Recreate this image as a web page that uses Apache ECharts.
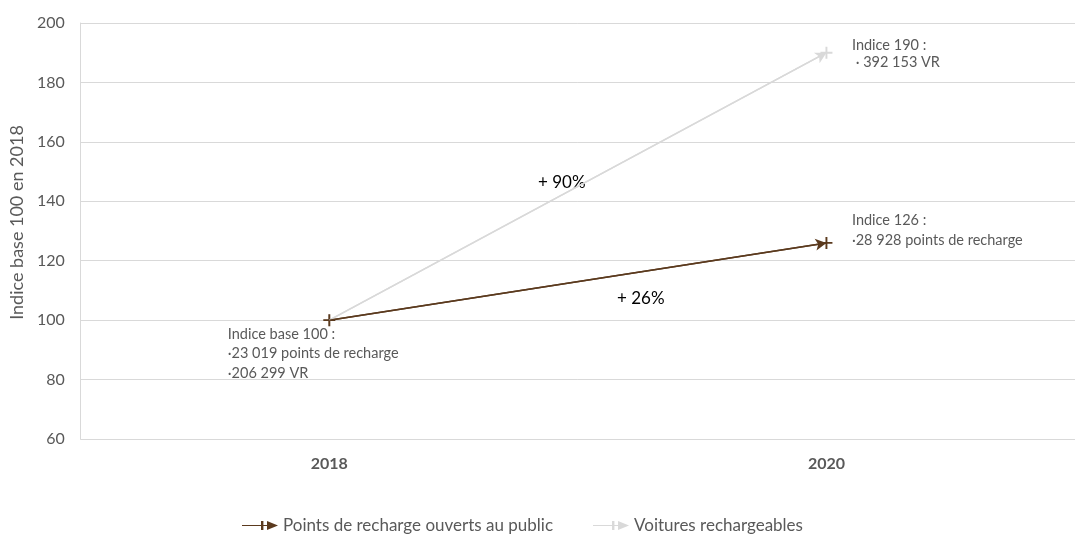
<!DOCTYPE html>
<html>
<head>
<meta charset="utf-8">
<style>
  html, body { margin: 0; padding: 0; background: #ffffff; }
  #chart { width: 1075px; height: 536px; }
</style>
<script src="https://cdn.jsdelivr.net/npm/echarts@6/dist/echarts.min.js"></script>
</head>
<body>
<div id="chart"></div>
<script>
// Years on the x axis
const years = ['2018', '2020'];
// Index values, base 100 in 2018
const pointsRecharge = [100, 126];
const voitures = [100, 190];
// Series names
const seriesNames = ['Points de recharge ouverts au public', 'Voitures rechargeables'];
// Annotation texts
const noteBase = 'Indice base 100 :\n·23 019 points de recharge\n·206 299 VR';
const notePoints = 'Indice 126 :\n·28 928 points de recharge';
const noteVoitures = 'Indice 190 :\n · 392 153 VR';
const growthVoitures = '+ 90%';
const growthPoints = '+ 26%';
// y-axis ticks
const yMin = 60, yMax = 200, yStep = 20;

const brown = '#5b3a1e';
const grey = '#d9d9d9';
const textColor = '#595959';
const font = 'Lato, "Liberation Sans", sans-serif';

const plus = 'path://M4.2,0H5.8V4.2H10V5.8H5.8V10H4.2V5.8H0V4.2H4.2Z';
const legendIcon = 'path://M0,4.4H26V5.6H0Z M25,0.5L36,5L25,9.5Z M19,0.5H21.4V9.5H19Z';

const chart = echarts.init(document.getElementById('chart'));

function arrowLine(values, color) {
  return {
    silent: true,
    symbol: ['none', 'arrow'],
    symbolSize: [9, 11],
    lineStyle: { color: color, width: 1.5, type: 'solid' },
    label: { show: false },
    data: [[{ coord: [0, values[0]] }, { coord: [1, values[1]] }]]
  };
}

function note(text, pos, lh) {
  return {
    show: true,
    formatter: text,
    position: pos,
    align: 'left',
    verticalAlign: 'top',
    lineHeight: lh,
    fontSize: 14.5,
    color: textColor,
    fontFamily: font
  };
}

chart.setOption({
  animation: false,
  textStyle: { fontFamily: font },
  grid: { left: 80, right: -7, top: 23, bottom: 97 },
  legend: {
    top: 512,
    left: 237,
    itemWidth: 36,
    itemHeight: 10,
    itemGap: 40,
    textStyle: { color: textColor, fontSize: 17, fontFamily: font },
    data: [
      { name: seriesNames[0], icon: legendIcon },
      { name: seriesNames[1], icon: legendIcon }
    ]
  },
  xAxis: {
    type: 'category',
    data: years,
    boundaryGap: true,
    axisLine: { show: true, lineStyle: { color: grey } },
    axisTick: { show: false },
    axisLabel: { color: textColor, fontWeight: 'bold', fontSize: 16, margin: 17, fontFamily: font }
  },
  yAxis: {
    type: 'value',
    min: yMin,
    max: yMax,
    interval: yStep,
    name: 'Indice base 100 en 2018',
    nameLocation: 'middle',
    nameGap: 54,
    nameTextStyle: { color: textColor, fontSize: 18, fontFamily: font, padding: [0, 0, 0, 17] },
    axisLine: { show: true, lineStyle: { color: grey } },
    axisTick: { show: false },
    axisLabel: { color: textColor, fontSize: 16, margin: 16, fontFamily: font },
    splitLine: { lineStyle: { color: grey, width: 1 } }
  },
  graphic: [
    { type: 'text', left: 538, top: 174, style: { text: growthVoitures, fill: '#000', font: '17px ' + font } },
    { type: 'text', left: 617, top: 290, style: { text: growthPoints, fill: '#000', font: '17px ' + font } }
  ],
  series: [
    {
      name: seriesNames[1],
      type: 'line',
      data: voitures.map((v, i) => ({
        value: v,
        label: i === 1 ? note(noteVoitures, [31.5, -9.5], 17) : { show: false }
      })),
      symbol: plus,
      symbolSize: 12,
      showAllSymbol: true,
      itemStyle: { color: grey },
      lineStyle: { color: grey, width: 1.5 },
      markLine: arrowLine(voitures, grey),
      z: 2
    },
    {
      name: seriesNames[0],
      type: 'line',
      data: pointsRecharge.map((v, i) => ({
        value: v,
        label: i === 0 ? note(noteBase, [-95.5, 10], 19.5) : note(notePoints, [31.5, -26.5], 20)
      })),
      symbol: plus,
      symbolSize: 12,
      showAllSymbol: true,
      itemStyle: { color: brown, opacity: 1 },
      lineStyle: { color: brown, width: 1.5 },
      markLine: arrowLine(pointsRecharge, brown),
      z: 3
    }
  ]
});
</script>
</body>
</html>
